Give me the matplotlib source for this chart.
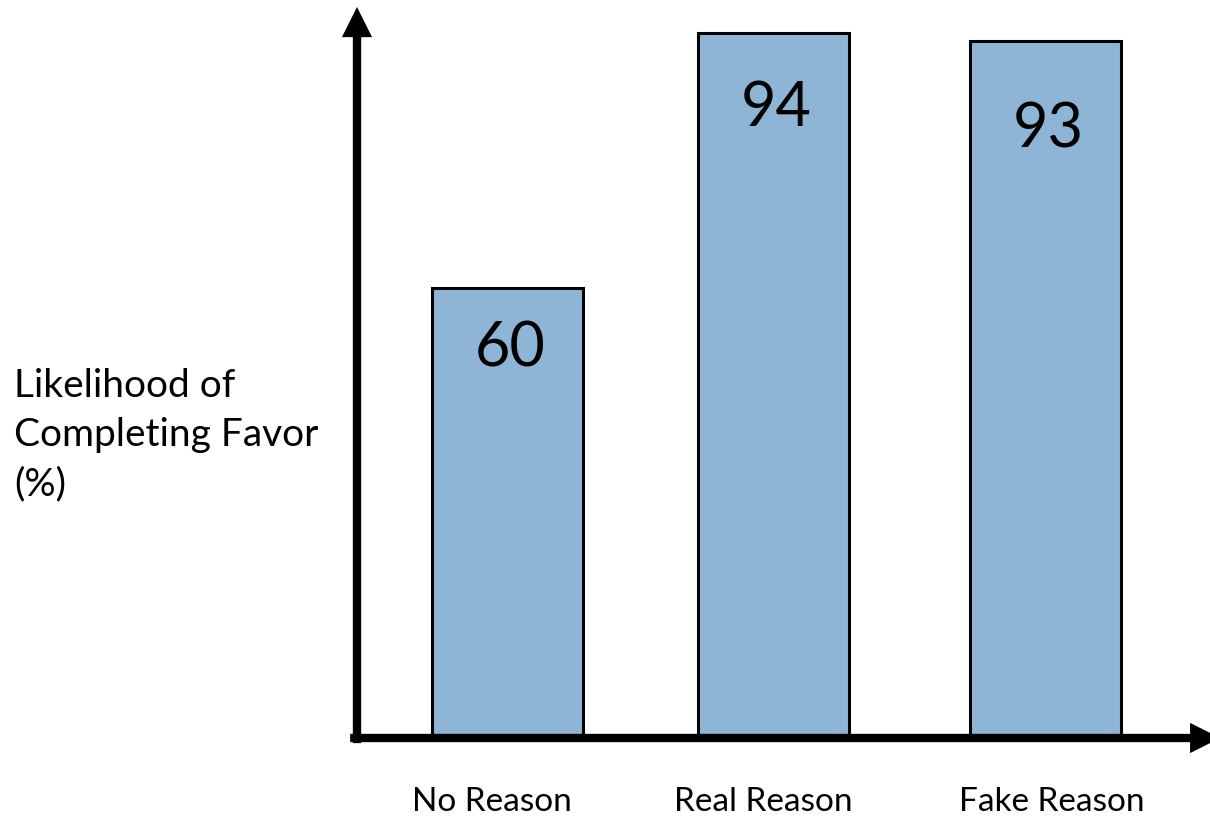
import matplotlib
matplotlib.use('Agg')
import matplotlib.pyplot as plt

categories = ['No Reason', 'Real Reason', 'Fake Reason']
likelihood = [60, 94, 93]

plt.rcParams['font.family'] = ['Lato', 'DejaVu Sans']

W, H = 1210, 816
fig = plt.figure(figsize=(W / 100, H / 100), dpi=100)
fig.patch.set_facecolor('white')

# axes box in figure pixels: left at the y arrow, bottom at the x arrow
left, bottom, top = 357, 738, 7
ax = fig.add_axes([left / W, (H - bottom) / H, (W - left) / W, (bottom - top) / H])
ax.set_xlim(-0.558, 2.613)
ax.set_ylim(0, 97.5)
ax.axis('off')

xs = [0, 0.99, 2]
bars = ax.bar(xs, likelihood, width=0.561, color='#8EB4D6', edgecolor='black',
              linewidth=2.2, zorder=2)

# the original was laid out by hand, so labels sit a little unevenly
value_dy = [-44, -54, -64]
name_dx = [-11, -7, 5]

for x, v, dy in zip(xs, likelihood, value_dy):
    ax.annotate(str(v), xy=(x, v), xytext=(2, dy), textcoords='offset points',
                ha='center', va='center', fontsize=44, color='black')

for x, c, dx in zip(xs, categories, name_dx):
    ax.annotate(c, xy=(x, 0), xytext=(dx, -46), textcoords='offset points',
                ha='center', va='center', fontsize=24, color='black',
                annotation_clip=False)

# hand-drawn style axis arrows
arrow = dict(arrowstyle='-|>', lw=6, color='black', mutation_scale=30,
             shrinkA=0, shrinkB=0, capstyle='butt', joinstyle='miter')
ax.annotate('', xy=(0, 1.0), xytext=(0, -0.007), xycoords='axes fraction',
            arrowprops=arrow, annotation_clip=False, zorder=3)
ax.annotate('', xy=(1.012, 0), xytext=(-0.008, 0), xycoords='axes fraction',
            arrowprops=arrow, annotation_clip=False, zorder=3)

fig.text(14 / W, 1 - 435 / H, 'Likelihood of\nCompleting Favor\n(%)',
         ha='left', va='center', fontsize=28, linespacing=1.45)

fig.savefig('out.png', dpi=100)
